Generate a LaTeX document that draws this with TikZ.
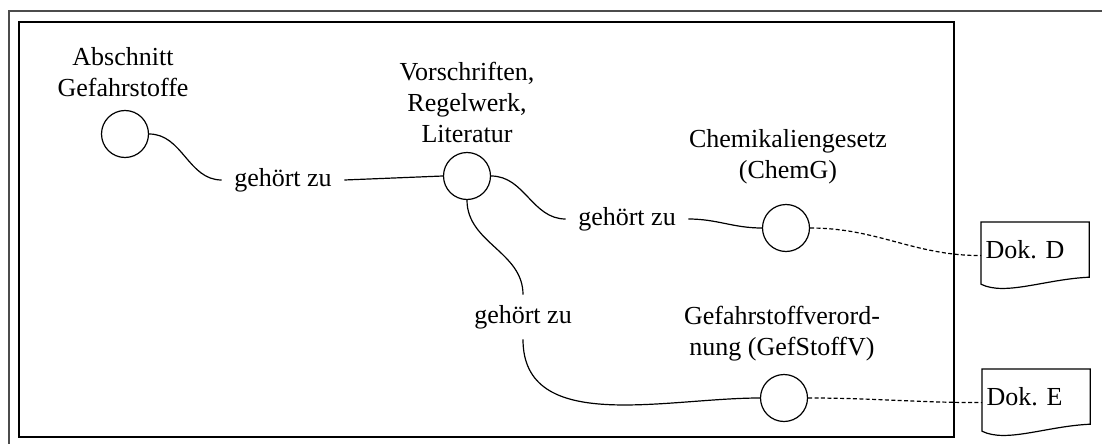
\documentclass[tikz,border=0pt]{standalone}
\usepackage{fontspec}
\setmainfont{Liberation Serif}
\newcommand{\dokform}[1]{%
  \draw (#1.north west) -- (#1.north east) -- ([yshift = 6pt]#1.south east)
    .. controls +(-22pt, -1pt) and +(12pt, -6pt) .. ([yshift = 2.5pt]#1.south west) -- cycle;}
\begin{document}
\begin{tikzpicture}[x = 0.5pt, y = -0.5pt, semithick,
		font = \fontsize{13}{15.5}\selectfont,
		knoten/.style = {circle, draw, minimum size = 23.5pt, inner sep = 0pt},
		titel/.style = {align = center, inner sep = 0pt},
		rel/.style = {inner xsep = 6pt, inner ysep = 5pt},
		dok/.style = {anchor = north west, text width = 49.5pt, minimum height = 33pt, inner xsep = 2pt, inner ysep = 0pt, text depth = 6pt, align = left},
		verweis/.style = {dash pattern = on 2pt off 1.2pt}]
				\useasboundingbox (0, 0) rectangle (1102, 444);
				\draw[black!70, line width = 1pt] (9, 444) -- (9, 11) -- (1102, 11);
				\draw[line width = 0.9pt] (19, 22) rectangle (954, 437);
				\node[knoten] (abschnitt) at (125, 134) {};
					\node[titel] (abschnitt-text) at (123, 72) {Abschnitt\\Gefahrstoffe};
				\node[knoten] (vorschriften) at (467, 176) {};
					\node[titel] (vorschriften-text) at (467, 102) {Vorschriften,\\Regelwerk,\\Literatur};
				\node[knoten] (chemg) at (786, 228) {};
					\node[titel] (chemg-text) at (788, 157) {Chemikaliengesetz\\(ChemG)};
				\node[knoten] (gefstoffv) at (784, 398) {};
					\node[titel] (gefstoffv-text) at (782, 334) {Gefahrstoffverord-\\nung (GefStoffV)};
				\node[rel] (rel1) at (283, 180) {gehört zu};
				\node[rel] (rel2) at (627, 219) {gehört zu};
				\node[rel] (rel3) at (523, 317) {gehört zu};
				\node[dok] (dokD) at (981, 222) {Dok.\ D};
					\dokform{dokD}
				\node[dok] (dokE) at (982, 369) {Dok.\ E};
					\dokform{dokE}
				\draw (abschnitt.east) to[out = 0, in = 180] (rel1.west);
				\draw (rel1.east) -- (vorschriften.west);
				\draw (vorschriften.east) to[out = 0, in = 180] (rel2.west);
				\draw (rel2.east) to[out = 0, in = 180] (chemg.west);
				\draw (vorschriften.south) to[out = -90, in = 90] (rel3.north);
				\draw (rel3.south) to[out = -90, in = 180] (gefstoffv.west);
				\draw[verweis] (chemg.east) to[out = 0, in = 180] (dokD.west);
				\draw[verweis] (gefstoffv.east) to[out = 0, in = 180] (dokE.west);
			\end{tikzpicture}
\end{document}
